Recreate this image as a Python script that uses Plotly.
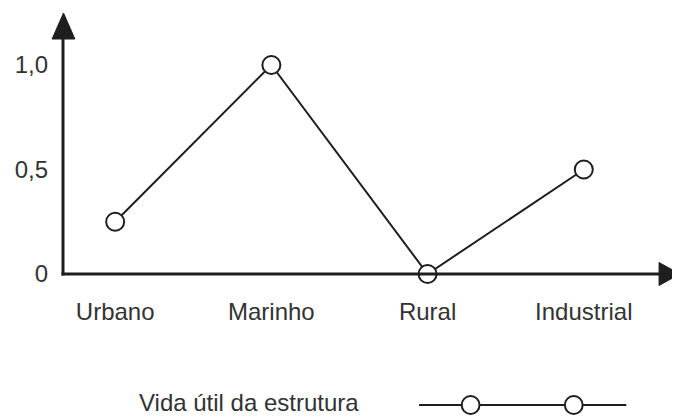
import plotly.graph_objects as go

categories = ["Urbano", "Marinho", "Rural", "Industrial"]
vida_util = [0.25, 1.0, 0.0, 0.5]
y_tick_vals = [0, 0.5, 1.0]
y_tick_text = ["0", "0,5", "1,0"]
legend_label = "Vida útil da estrutura"

# page has an 8px body margin: figure coords = page coords - 8
OFF = 8
W, H = 680 - OFF, 417 - OFF
X0_PAGE, X1_PAGE = 58, 665     # plot area left/right (page px)
Y0_PAGE, Y1_PAGE = 15, 274     # plot area top/bottom (page px)
ML = X0_PAGE - OFF
MR = W - (X1_PAGE - OFF)
MT = Y0_PAGE - OFF
MB = H - (Y1_PAGE - OFF)
PW, PH = W - ML - MR, H - MT - MB

def px(x):
    return (x - OFF - ML) / PW

def py(y):
    return (H - MB - (y - OFF)) / PH

ink = "#1e1e1e"
txt = "#333333"
font = dict(family="Liberation Sans, Arial, sans-serif", size=24, color=txt)

fig = go.Figure()
fig.add_trace(go.Scatter(
    x=list(range(len(categories))), y=vida_util, mode="lines+markers",
    line=dict(color=ink, width=2),
    marker=dict(symbol="circle", size=18, color="white", line=dict(color=ink, width=2)),
    cliponaxis=False, showlegend=False, name=legend_label,
))

shapes = []
# y axis line + arrowhead
shapes.append(dict(type="line", xref="paper", yref="paper", x0=px(58), x1=px(58), y0=py(275.5), y1=py(32),
                   line=dict(color=ink, width=3)))
shapes.append(dict(type="path", xref="paper", yref="paper",
                   path=f"M {px(47)} {py(39)} L {px(58.5)} {py(13)} L {px(70)} {py(39)} Z",
                   fillcolor=ink, line=dict(color=ink, width=1)))
# x axis line + arrowhead
shapes.append(dict(type="line", xref="paper", yref="paper", x0=px(56.5), x1=px(665), y0=py(274), y1=py(274),
                   line=dict(color=ink, width=3)))
shapes.append(dict(type="path", xref="paper", yref="paper",
                   path=f"M {px(659)} {py(262.5)} L {px(680)} {py(274)} L {px(659)} {py(285.5)} Z",
                   fillcolor=ink, line=dict(color=ink, width=1)))
# manual legend symbol
shapes.append(dict(type="line", xref="paper", yref="paper", x0=px(417), x1=px(626), y0=py(405), y1=py(405),
                   line=dict(color=ink, width=2)))
for cx in (469, 573):
    shapes.append(dict(type="circle", xref="paper", yref="paper",
                       x0=px(cx - 9), x1=px(cx + 9), y0=py(405 - 9), y1=py(405 + 9),
                       fillcolor="white", line=dict(color=ink, width=2)))

fig.update_layout(
    width=W, height=H,
    margin=dict(l=ML, r=MR, t=MT, b=MB),
    paper_bgcolor="white", plot_bgcolor="white",
    shapes=shapes,
    font=font,
    annotations=[dict(text=legend_label, xref="paper", yref="paper", x=px(358), y=py(402),
                      xanchor="right", yanchor="middle", showarrow=False, font=font)],
    xaxis=dict(range=[-0.334, 3.52], tickmode="array", tickvals=list(range(len(categories))),
               ticktext=categories, showgrid=False, zeroline=False, showline=False,
               ticks="", ticklabelstandoff=21, tickfont=font),
    yaxis=dict(range=[0, PH / 209], tickmode="array", tickvals=y_tick_vals,
               ticktext=y_tick_text, showgrid=False, zeroline=False, showline=False,
               ticks="", ticklabelstandoff=14, tickfont=font),
)

fig.write_html("out.html")
